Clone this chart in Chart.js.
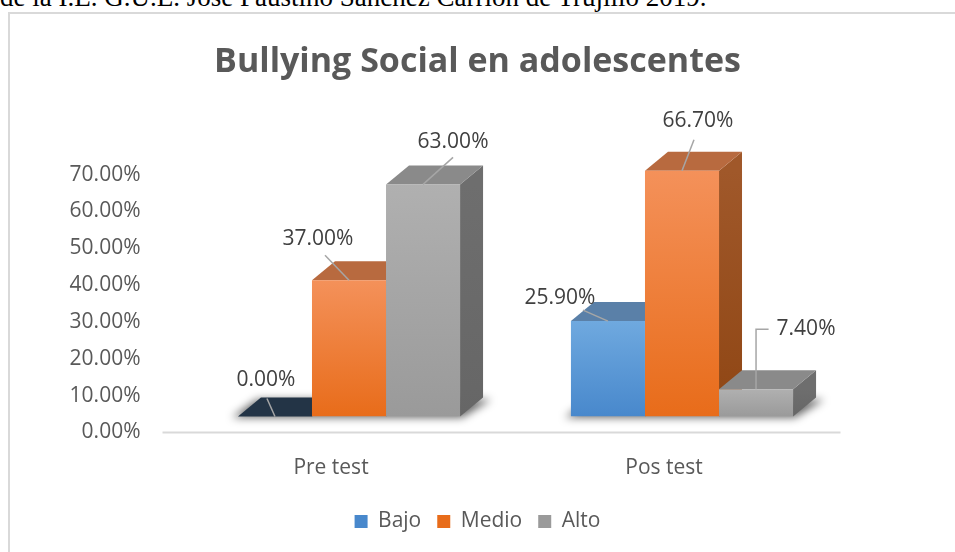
<!DOCTYPE html>
<html>
<head>
<meta charset="utf-8">
<script src="https://cdn.jsdelivr.net/npm/chart.js"></script>
<style>
  body { margin: 0; background: #fff; overflow: hidden; }
  #caption { position: absolute; left: 0; top: -16px; font: 27px/27px "Liberation Serif", "Times New Roman", serif; color: #000; white-space: nowrap; }
  #frame { position: absolute; left: 8px; top: 12px; width: 960px; height: 560px; border-left: 2px solid #d9d9d9; border-top: 2px solid #d9d9d9; }
  #chart { position: absolute; left: 0; top: 0; }
</style>
</head>
<body>
<div id="caption">de la I.E. G.U.E. José Faustino Sánchez Carrión de Trujillo 2019.</div>
<div id="frame"></div>
<canvas id="chart" width="955" height="552"></canvas>
<script>
// chart data
const categories = ["Pre test", "Pos test"];
const seriesNames = ["Bajo", "Medio", "Alto"];
const bajo = [0, 25.9];
const medio = [37, 66.7];
const alto = [63, 7.4];
const yTicks = [0, 10, 20, 30, 40, 50, 60, 70];

// colours: legend, front face (top -> bottom), top face, side face
const legendColors = ["#5b9bd5", "#ed7d31", "#a5a5a5"];
const frontTop = ["#6fa9df", "#f4915a", "#b0b0b0"];
const frontBottom = ["#4888cc", "#e86c1a", "#9a9a9a"];
const topFace = ["#5a80a8", "#b86a3f", "#8a8a8a"];
const sideTop = ["#44739f", "#a0582a", "#6e6e6e"];
const sideBottom = ["#3a6894", "#8f4614", "#666666"];
const zeroTop = "#233446";

const DX = 23, DY = -19; // depth of the 3d bars

// where each value label sits, relative to the top centre of its bar
const labelSpots = [
  [{ dx: -9, dy: -36, lx: 1, ly: 18 }, { dx: -48, dy: -23, lx: 23, ly: 12 }],
  [{ dx: -31, dy: -41, lx: 7, ly: 16 }, { dx: 16, dy: -50, lx: -4, ly: 19 }],
  [{ dx: 30, dy: -42, lx: 0, ly: 15 }, { dx: 50, dy: -60, elbow: true }]
];

Chart.defaults.font.family = "'Open Sans', sans-serif";
Chart.defaults.color = "#595959";

function frontFill(i) {
  return ctx => {
    if (ctx.type !== "data") return legendColors[i];
    const y = ctx.chart.scales.y;
    const top = y.getPixelForValue(ctx.raw), bottom = y.getPixelForValue(0);
    if (!(bottom > top)) return frontBottom[i];
    const g = ctx.chart.ctx.createLinearGradient(0, top, 0, bottom);
    g.addColorStop(0, frontTop[i]);
    g.addColorStop(1, frontBottom[i]);
    return g;
  };
}

function quad(c, pts) {
  c.beginPath();
  c.moveTo(pts[0], pts[1]);
  for (let k = 2; k < pts.length; k += 2) c.lineTo(pts[k], pts[k + 1]);
  c.closePath();
  c.fill();
}

// tops, sides, floor shadow and floor line of the 3d look
const bars3d = {
  id: "bars3d",
  beforeDatasetsDraw(chart) {
    const c = chart.ctx;
    const area = chart.chartArea;
    const y0 = chart.scales.y.getPixelForValue(0);
    c.save();
    c.strokeStyle = "#d9d9d9";
    c.lineWidth = 2;
    c.beginPath();
    c.moveTo(area.left - 20, y0 + 16);
    c.lineTo(area.right - 8, y0 + 16);
    c.stroke();

    categories.forEach((_, i) => {
      const first = chart.getDatasetMeta(0).data[i];
      const last = chart.getDatasetMeta(seriesNames.length - 1).data[i];
      const l = first.x - first.width / 2, r = last.x + last.width / 2;
      c.filter = "blur(4px)";
      c.fillStyle = "rgba(0,0,0,0.6)";
      quad(c, [l - 6, y0 + 1, r + 2, y0 + 1, r + DX + 8, y0 + DY + 2, l + DX - 4, y0 + DY + 2]);
    });
    c.filter = "none";

    categories.forEach((_, i) => {
      seriesNames.forEach((_, d) => {
        const el = chart.getDatasetMeta(d).data[i];
        const l = el.x - el.width / 2, r = el.x + el.width / 2;
        const t = el.y, b = el.base;
        const sg = c.createLinearGradient(0, t, 0, b);
        sg.addColorStop(0, sideTop[d]);
        sg.addColorStop(1, sideBottom[d]);
        c.fillStyle = sg;
        quad(c, [r, t, r + DX, t + DY, r + DX, b + DY, r, b]);
        c.fillStyle = chart.data.datasets[d].data[i] === 0 ? zeroTop : topFace[d];
        quad(c, [l, t, r, t, r + DX, t + DY, l + DX, t + DY]);
      });
    });
    c.restore();
  }
};

// value labels with leader lines
const valueLabels = {
  id: "valueLabels",
  afterDatasetsDraw(chart) {
    const c = chart.ctx;
    c.save();
    c.font = "21px 'Open Sans'";
    c.textAlign = "center";
    c.textBaseline = "middle";
    chart.data.datasets.forEach((ds, d) => {
      chart.getDatasetMeta(d).data.forEach((el, i) => {
        const s = labelSpots[d][i];
        const text = ds.data[i].toFixed(2) + "%";
        const tx = el.x + s.dx, ty = el.y + s.dy;
        c.strokeStyle = "#a6a6a6";
        c.lineWidth = 1.5;
        c.beginPath();
        c.moveTo(el.x, el.y);
        if (s.elbow) {
          const w = c.measureText(text).width;
          c.lineTo(el.x, ty);
          c.lineTo(tx - w / 2 - 8, ty);
        } else {
          c.lineTo(tx + s.lx, ty + s.ly);
        }
        c.stroke();
        c.fillStyle = "#404040";
        c.fillText(text, tx, ty);
      });
    });
    c.restore();
  }
};

new Chart(document.getElementById("chart"), {
  type: "bar",
  data: {
    labels: categories,
    datasets: [
      { label: seriesNames[0], data: bajo, backgroundColor: frontFill(0) },
      { label: seriesNames[1], data: medio, backgroundColor: frontFill(1) },
      { label: seriesNames[2], data: alto, backgroundColor: frontFill(2) }
    ]
  },
  options: {
    responsive: false,
    animation: false,
    layout: { padding: { left: 0, right: 0, top: 0, bottom: 10 } },
    datasets: { bar: { categoryPercentage: 0.667, barPercentage: 1, borderWidth: 0 } },
    scales: {
      x: {
        grid: { display: false },
        border: { display: false },
        ticks: { padding: 30.5, labelOffset: -18, font: { size: 21 } },
        afterFit: s => { s.height = 78.5; }
      },
      y: {
        min: 0,
        max: 70,
        grid: { display: false },
        border: { display: false },
        afterBuildTicks: s => { s.ticks = yTicks.map(v => ({ value: v })); },
        ticks: { padding: 34, labelOffset: 16, font: { size: 21 }, callback: v => v.toFixed(2) + "%" },
        afterFit: s => { s.width = 182.5; }
      },
      // empty right-hand margin, keeps the title and legend centred on the whole frame
      yRight: {
        position: "right",
        grid: { display: false },
        border: { display: false },
        ticks: { display: false },
        afterFit: s => { s.width = 106.5; }
      }
    },
    plugins: {
      title: {
        display: true,
        text: "Bullying Social en adolescentes",
        color: "#595959",
        font: { size: 34, weight: "bold" },
        padding: { top: 42, bottom: 75.8 }
      },
      legend: {
        position: "bottom",
        labels: { boxWidth: 13, boxHeight: 13, padding: 16, color: "#595959", font: { size: 21 } }
      },
      tooltip: { enabled: false }
    }
  },
  plugins: [bars3d, valueLabels]
});
</script>
</body>
</html>
